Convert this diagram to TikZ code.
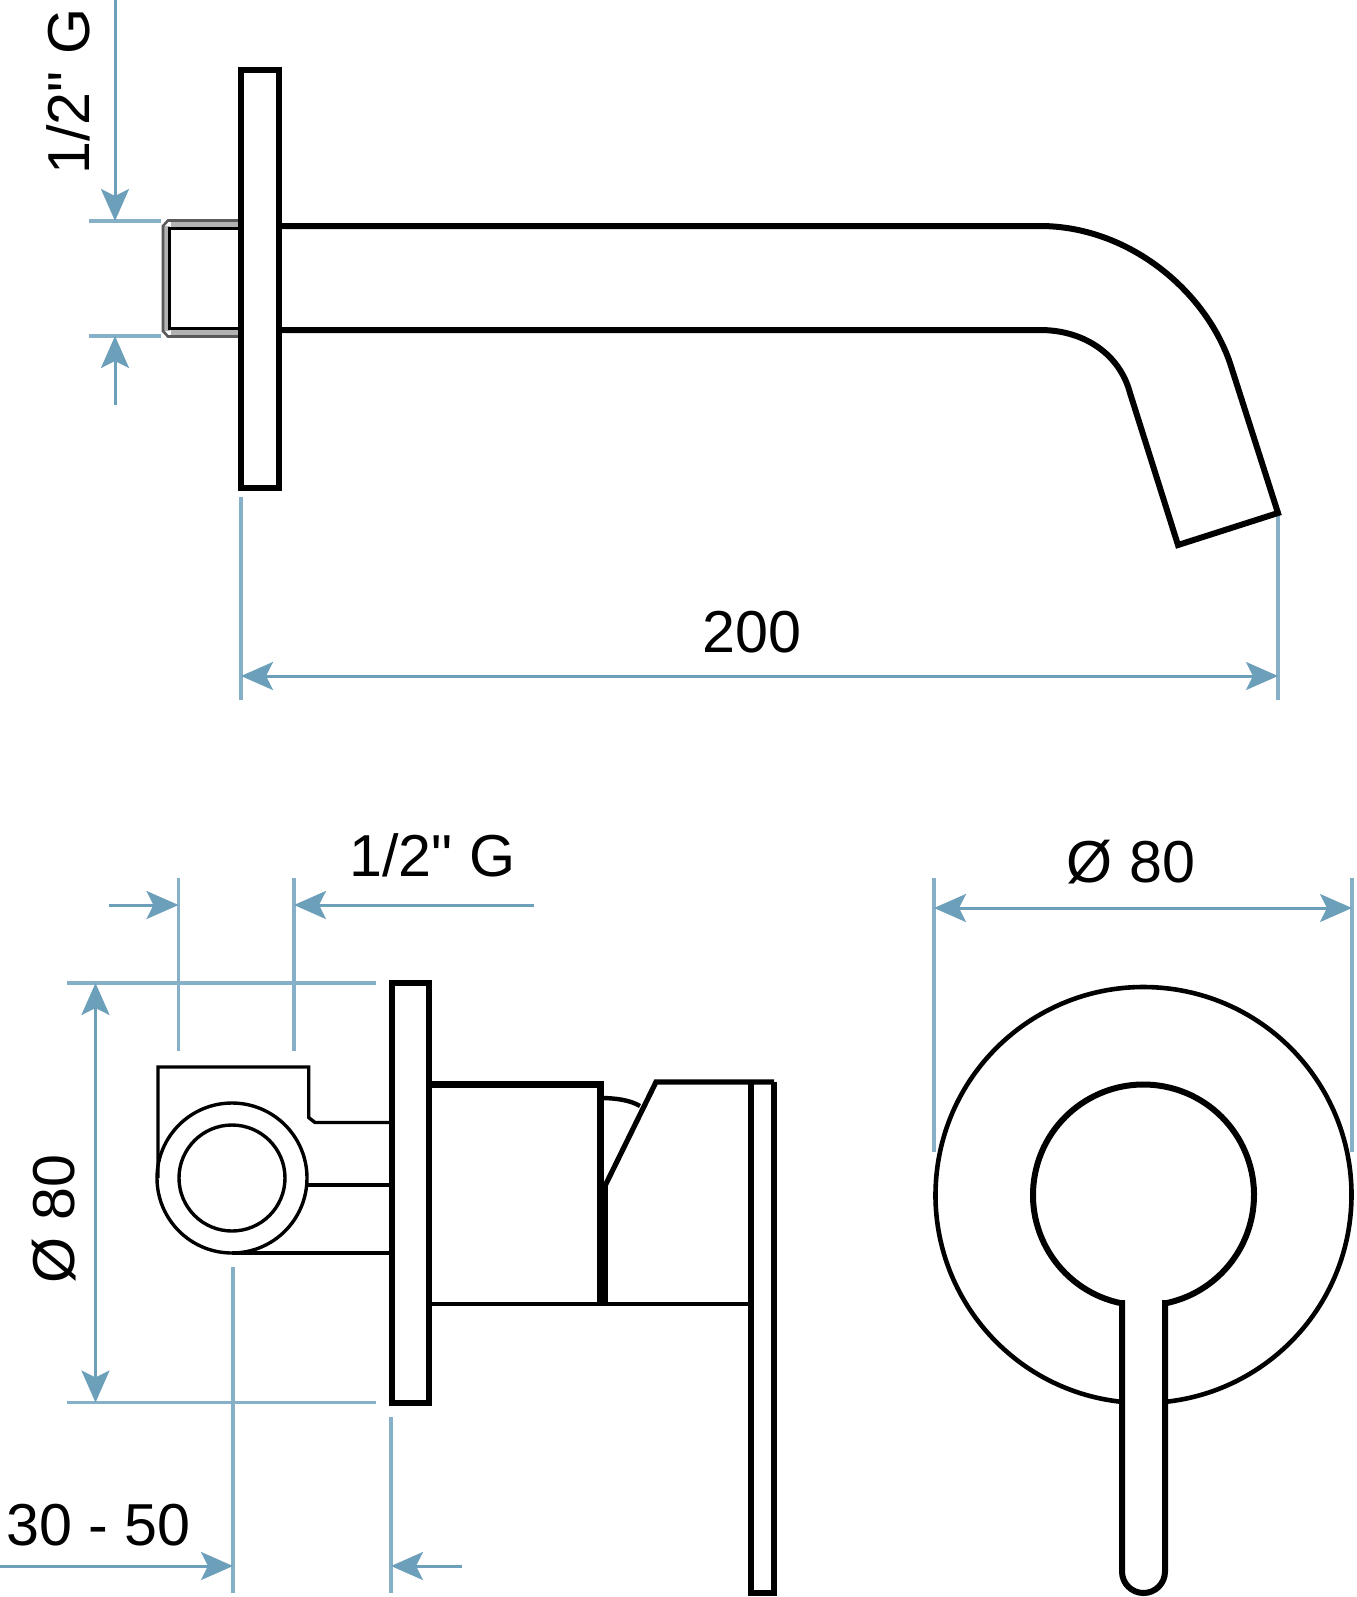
\documentclass[tikz,border=0pt]{standalone}
\usepackage{fontspec}
\newfontfamily\dimfont{Liberation Sans}
\usetikzlibrary{arrows.meta}
\definecolor{dimblue}{HTML}{6C9FBA}
\definecolor{extblue}{HTML}{86B0C7}
\tikzset{
	part/.style={black,line width=3pt,line join=miter},
	thin part/.style={black,line width=1.7pt},
	dim/.style={dimblue,line width=1.5pt,-{Stealth[length=16pt,width=14pt,inset=3.5pt]}},
	dimboth/.style={dim,{Stealth[length=16pt,width=14pt,inset=3.5pt]}-{Stealth[length=16pt,width=14pt,inset=3.5pt]}},
	ext/.style={extblue,line width=1.8pt},
	label/.style={black,inner sep=0pt,anchor=base,font=\dimfont\fontsize{29.6pt}{30pt}\selectfont}
}
\begin{document}
\begin{tikzpicture}[x=0.5pt,y=-0.5pt]
	\useasboundingbox (0,0) rectangle (1356,1597);
	% spout
	\coordinate (top1) at (115,221);
	\coordinate (top2) at (115,336);
	\coordinate (lenL) at (241,676);
	\coordinate (lenR) at (1278,676);
	\draw[ext] (89,221) -- (161,221);
	\draw[ext] (89,336) -- (161,336);
	\draw[dim] (115,0) -- (top1);
	\draw[dim] (115,405) -- (top2);
	\draw[ext] (241,497) -- (241,700);
	\draw[ext] (1278,515) -- (1278,700);
	\draw[dimboth] (lenL) -- (lenR);
	\node[label,rotate=90,anchor=base west] (pipeG) at (89,175) {1/2" G};
	\node[label] (len) at (752,652) {200};
	\fill[gray!60] (171,220) rectangle (238,229);
	\fill[gray!60] (171,328) rectangle (238,337);
	\fill[gray!60] (163,226) rectangle (169.5,331);
	\draw[gray!70!black,line width=1.3pt] (238,220.5) -- (168,220.5) -- (163,226) -- (163,331) -- (168,336.5) -- (238,336.5);
	\draw[black,line width=1.5pt] (238,228.5) -- (169.5,228.5) -- (169.5,328.5) -- (238,328.5);
	\draw[part] (241,70) rectangle (279,488);
	\draw[part] (279,226) -- (1040,226) .. controls (1128,226) and (1205,290) .. (1230,363) -- (1278,513) -- (1178,545) -- (1130,393) .. controls (1120,355) and (1085,330) .. (1040,330) -- (279,330);
	% side view
	\coordinate (nutL) at (178.5,905);
	\coordinate (nutR) at (294,905);
	\coordinate (plateT) at (95.5,983);
	\coordinate (plateB) at (95.5,1402.5);
	\coordinate (wallL) at (233,1566);
	\coordinate (wallR) at (391,1566);
	\draw[ext] (178.5,878) -- (178.5,1051);
	\draw[ext] (294,878) -- (294,1051);
	\draw[ext] (67,983) -- (376,983);
	\draw[ext] (67,1402.5) -- (376,1402.5);
	\draw[ext] (233,1267) -- (233,1593);
	\draw[ext] (391,1417) -- (391,1593);
	\draw[dim] (109,905) -- (nutL);
	\draw[dim] (534,905) -- (nutR);
	\draw[dimboth] (plateT) -- (plateB);
	\draw[dim] (0,1566) -- (wallL);
	\draw[dim] (462,1566) -- (wallR);
	\node[label] (sideG) at (432.5,876) {1/2" G};
	\node[label,rotate=90] (sideD) at (75,1219) {Ø 80};
	\node[label] (wall) at (98.5,1545) {30 - 50};
	\draw[thin part] (158,1178) -- (158,1067) -- (308.7,1067) -- (308.7,1117.5) -- (315,1122.5) -- (389,1122.5);
	\draw[thin part] (307,1185) -- (389,1185);
	\draw[thin part] (232,1253) -- (389,1253);
	\draw[thin part] (232,1178) circle (75);
	\draw[thin part] (232,1178) circle (53);
	\draw[part] (392,983) rectangle (429,1403);
	\draw[part,line width=3.5pt] (429,1084) -- (600,1084) -- (600,1304);
	\draw[part,line width=2.2pt] (429,1304) -- (751,1304);
	\draw[part,line width=4pt] (604,1304) -- (604,1183);
	\draw[part,line width=2.6pt] (603,1190) -- (656,1082) -- (774,1082);
	\draw[part,line width=2.2pt] (601,1098) .. controls (615,1098) and (630,1100) .. (640,1106);
	\draw[part,line width=2.6pt] (751,1082) -- (751,1593) -- (774,1593) -- (774,1082);
	% front view
	\coordinate (roseL) at (934,908);
	\coordinate (roseR) at (1352,908);
	\draw[ext] (934,878) -- (934,1152);
	\draw[ext] (1352,878) -- (1352,1152);
	\draw[dimboth] (roseL) -- (roseR);
	\node[label] (frontD) at (1131,882) {Ø 80};
	\coordinate (rose) at (1143.5,1195);
	\draw[part,line width=2.3pt] ([shift={(95.9:208)}]rose) arc[start angle=95.9,end angle=444.1,radius=208];
	\draw[part] ([shift={(101:110.5)}]rose) arc[start angle=101,end angle=439,radius=110.5];
	\draw[part] (1122,1300) -- (1122,1571.5) arc[start angle=180,end angle=0,radius=21.5] -- (1165,1300);
\end{tikzpicture}
\end{document}
